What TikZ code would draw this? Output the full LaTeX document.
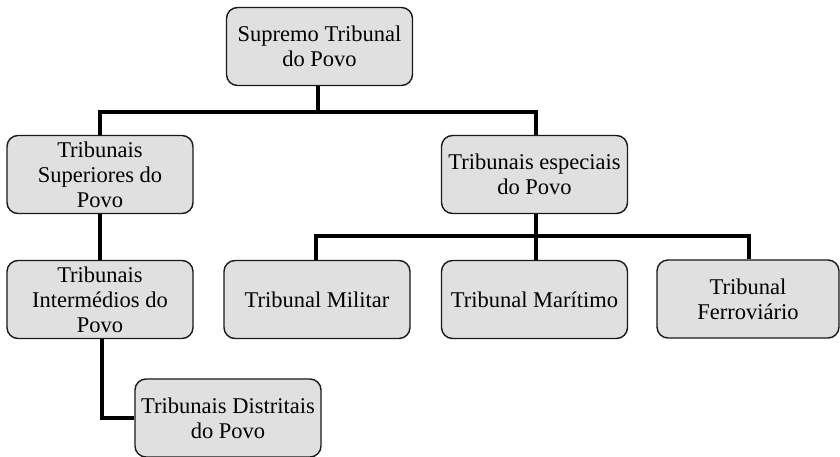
\documentclass[tikz,border=0pt]{standalone}
\usepackage{fontspec}
\setmainfont{Liberation Serif}
\begin{document}
\begin{tikzpicture}[x=1pt,y=-1pt,
  orgbox/.style={draw=black!90, line width=1.4pt, fill=black!12, rounded corners=11pt,
    minimum width=186pt, minimum height=78pt, inner sep=2pt, align=center,
    font=\fontsize{22.5}{25}\selectfont},
  link/.style={line width=3.4pt, black}]
\useasboundingbox (0,0) rectangle (840,456);
\node[orgbox] (top) at (319.5,46.5) {Supremo Tribunal\\do Povo};
\node[orgbox] (sup) at (100,174.5) {Tribunais\\Superiores do\\Povo};
\node[orgbox] (esp) at (534.5,174.5) {Tribunais especiais\\do Povo};
\node[orgbox] (inter) at (100,299.5) {Tribunais\\Intermédios do\\Povo};
\node[orgbox] (mil) at (317,299.5) {Tribunal Militar};
\node[orgbox] (mar) at (534.5,299.5) {Tribunal Marítimo};
\node[orgbox, minimum width=182pt] (fer) at (748,299) {Tribunal\\Ferroviário};
\node[orgbox] (dist) at (228,418) {Tribunais Distritais\\do Povo};
\coordinate (j1) at (318,112);
\coordinate (j2) at (536,236);
\draw[link] (top.south -| j1) -- (j1);
\draw[link] (j1) -| (sup.north);
\draw[link] (j1) -| (esp.north -| j2);
\draw[link] (esp.south -| j2) -- (j2);
\draw[link] (j2) -| ([xshift=-1pt]mil.north);
\draw[link] (j2) -- (mar.north -| j2);
\draw[link] (j2) -| ([xshift=1pt]fer.north);
\draw[link] (sup.south) -- (inter.north);
\draw[link] ([xshift=2pt]inter.south) |- (dist.west);
\end{tikzpicture}
\end{document}
